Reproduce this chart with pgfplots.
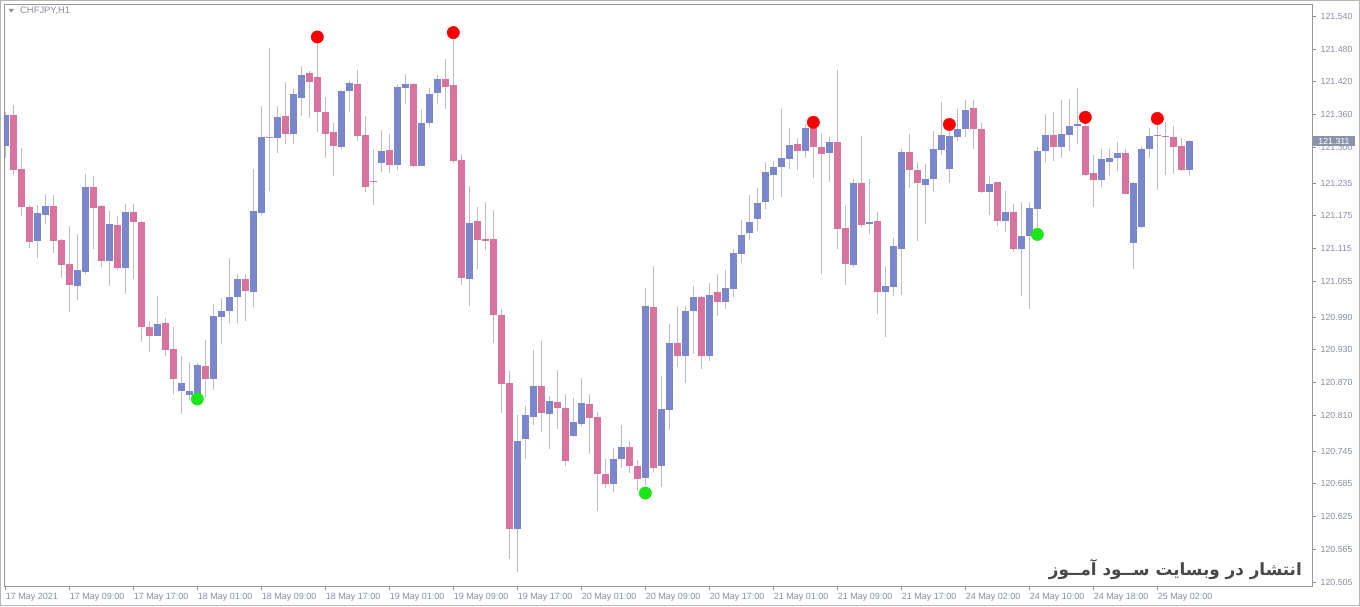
\documentclass[border=0pt]{standalone}
\usepackage{fontspec}
\setmainfont{Liberation Sans}
\newfontfamily\arabicfont[Script=Arabic]{DejaVu Sans}
\TeXXeTstate=1
\usepackage{pgfplots}
\usepackage{pgfplotstable}
\pgfplotsset{compat=1.18}

\definecolor{bullc}{RGB}{122,135,204}
\definecolor{bearc}{RGB}{217,114,158}
\definecolor{wickc}{RGB}{190,190,190}
\definecolor{lblc}{RGB}{136,142,160}
\definecolor{framec}{RGB}{150,150,150}
\definecolor{pricebox}{RGB}{140,147,172}
\definecolor{persc}{RGB}{72,72,72}
\definecolor{dotred}{RGB}{250,0,0}
\definecolor{dotgreen}{RGB}{26,230,26}

% hourly CHFJPY candles, x = bar index
\pgfplotstableread{
x O H L C
0 121.303 121.365 121.280 121.360
4 121.129 121.195 121.098 121.180
5 121.177 121.215 121.160 121.193
9 121.047 121.141 121.021 121.076
10 121.072 121.252 121.068 121.228
13 121.093 121.184 121.047 121.160
15 121.080 121.196 121.032 121.182
19 120.956 121.028 120.955 120.977
22 120.854 120.918 120.813 120.869
23 120.848 120.907 120.838 120.854
24 120.850 120.905 120.845 120.903
26 120.876 121.013 120.856 120.991
27 120.990 121.025 120.941 121.001
28 121.001 121.097 120.979 121.027
29 121.027 121.069 120.979 121.059
31 121.036 121.261 121.008 121.184
32 121.181 121.375 121.177 121.319
34 121.318 121.375 121.290 121.355
36 121.324 121.407 121.307 121.398
37 121.391 121.449 121.358 121.433
42 121.301 121.405 121.298 121.404
43 121.404 121.421 121.365 121.418
47 121.272 121.331 121.255 121.293
49 121.268 121.416 121.259 121.410
50 121.409 121.435 121.380 121.416
52 121.266 121.368 121.266 121.345
53 121.345 121.408 121.338 121.398
54 121.399 121.432 121.379 121.426
58 121.059 121.230 121.011 121.162
64 120.603 120.810 120.524 120.764
65 120.766 120.828 120.730 120.811
66 120.808 120.930 120.792 120.864
68 120.813 120.845 120.748 120.836
71 120.773 120.842 120.771 120.798
72 120.794 120.879 120.790 120.832
76 120.684 120.750 120.670 120.730
77 120.730 120.792 120.714 120.753
80 120.695 121.043 120.683 121.010
82 120.717 120.883 120.680 120.822
83 120.820 120.977 120.784 120.943
85 120.919 121.011 120.870 121.001
86 121.001 121.047 120.923 121.027
88 120.918 121.052 120.909 121.031
90 121.018 121.076 121.004 121.043
91 121.042 121.114 121.027 121.107
92 121.106 121.167 121.088 121.140
93 121.143 121.213 121.131 121.163
94 121.169 121.225 121.148 121.199
95 121.201 121.273 121.187 121.255
96 121.250 121.276 121.204 121.264
97 121.264 121.370 121.209 121.280
98 121.278 121.335 121.261 121.305
100 121.294 121.343 121.280 121.336
103 121.290 121.319 121.237 121.310
106 121.085 121.243 121.081 121.235
108 121.160 121.243 121.142 121.163
110 121.036 121.084 120.953 121.047
111 121.045 121.135 121.029 121.119
112 121.115 121.298 121.031 121.292
115 121.232 121.269 121.160 121.242
116 121.242 121.331 121.218 121.298
117 121.296 121.384 121.287 121.323
118 121.261 121.331 121.235 121.321
119 121.320 121.370 121.312 121.333
120 121.333 121.387 121.319 121.368
123 121.218 121.248 121.177 121.234
125 121.165 121.220 121.146 121.182
127 121.115 121.200 121.029 121.139
128 121.138 121.201 121.004 121.189
129 121.188 121.301 121.153 121.293
130 121.293 121.361 121.273 121.322
132 121.300 121.387 121.280 121.324
133 121.322 121.389 121.294 121.339
134 121.339 121.408 121.307 121.343
137 121.240 121.298 121.228 121.278
138 121.274 121.298 121.248 121.281
139 121.280 121.310 121.257 121.290
141 121.126 121.236 121.077 121.235
142 121.155 121.302 121.153 121.298
143 121.298 121.335 121.281 121.321
148 121.258 121.314 121.248 121.312
}\bull

\pgfplotstableread{
x O H L C
1 121.360 121.377 121.250 121.259
2 121.261 121.299 121.174 121.192
3 121.192 121.195 121.117 121.128
6 121.193 121.213 121.107 121.129
7 121.131 121.133 121.061 121.085
8 121.087 121.156 121.000 121.049
11 121.228 121.247 121.114 121.190
12 121.193 121.195 121.082 121.093
14 121.158 121.174 121.075 121.080
16 121.182 121.196 121.059 121.164
17 121.164 121.165 120.944 120.972
18 120.972 120.983 120.926 120.956
20 120.979 120.989 120.918 120.929
21 120.931 120.972 120.850 120.876
25 120.900 120.948 120.842 120.876
30 121.059 121.069 120.983 121.038
33 121.320 121.481 121.220 121.318
35 121.358 121.420 121.307 121.324
38 121.437 121.439 121.354 121.420
39 121.429 121.492 121.329 121.364
40 121.364 121.392 121.281 121.325
41 121.328 121.345 121.247 121.302
44 121.416 121.442 121.312 121.321
45 121.323 121.358 121.218 121.227
46 121.238 121.296 121.194 121.236
48 121.295 121.324 121.254 121.268
51 121.416 121.418 121.264 121.266
55 121.426 121.462 121.370 121.411
56 121.414 121.499 121.271 121.276
57 121.277 121.288 121.049 121.061
59 121.165 121.192 121.078 121.131
60 121.132 121.200 121.112 121.129
61 121.133 121.186 120.942 120.994
62 120.994 121.004 120.815 120.868
63 120.870 120.891 120.548 120.603
67 120.864 120.946 120.779 120.815
69 120.835 120.893 120.786 120.824
70 120.824 120.849 120.718 120.727
73 120.831 120.850 120.739 120.805
74 120.808 120.817 120.635 120.702
75 120.703 120.731 120.678 120.684
78 120.752 120.764 120.704 120.717
79 120.717 120.729 120.672 120.693
81 121.008 121.083 120.706 120.714
84 120.943 121.010 120.898 120.919
87 121.027 121.029 120.895 120.918
89 121.036 121.069 120.991 121.018
99 121.306 121.317 121.259 121.293
101 121.336 121.339 121.245 121.301
102 121.301 121.324 121.069 121.288
104 121.310 121.442 121.114 121.151
105 121.153 121.193 121.048 121.087
107 121.235 121.321 121.154 121.158
109 121.165 121.182 120.996 121.036
113 121.292 121.324 121.225 121.259
114 121.259 121.274 121.129 121.235
121 121.372 121.387 121.298 121.333
122 121.333 121.345 121.216 121.218
124 121.236 121.237 121.156 121.165
126 121.182 121.196 121.109 121.115
131 121.322 121.365 121.276 121.300
135 121.340 121.345 121.248 121.250
136 121.253 121.286 121.192 121.240
140 121.290 121.298 121.214 121.215
144 121.323 121.342 121.223 121.321
145 121.321 121.346 121.250 121.319
146 121.319 121.339 121.252 121.300
147 121.302 121.317 121.257 121.258
}\bear

\pgfplotstableread{
x y
39 121.502
56 121.510
101 121.346
118 121.342
135 121.355
144 121.353
}\reddots

\pgfplotstableread{
x y
24 120.840
80 120.668
129 121.141
}\greendots

\begin{document}
\begin{tikzpicture}
\fill[white] (0pt,0pt) rectangle (1360pt,606pt);
\draw[framec!70, line width=1pt] (0.5pt,0.5pt) rectangle (1359.5pt,605.5pt);
\begin{axis}[
    at={(4pt,20pt)}, anchor=south west,
    scale only axis, width=1308pt, height=582pt,
    xmin=-0.1625, xmax=163.33,
    ymin=120.4981, ymax=121.5623,
    axis line style={framec, line width=0.8pt},
    tick style={lblc, line width=0.8pt},
    tick align=outside, major tick length=3.5pt,
    xtick pos=bottom, ytick pos=right, yticklabel pos=right,
    xtick={0,8,...,144},
    xticklabels={17 May 2021, 17 May 09:00, 17 May 17:00, 18 May 01:00,
        18 May 09:00, 18 May 17:00, 19 May 01:00, 19 May 09:00, 19 May 17:00,
        20 May 01:00, 20 May 09:00, 20 May 17:00, 21 May 01:00, 21 May 09:00,
        21 May 17:00, 24 May 02:00, 24 May 10:00, 24 May 18:00, 25 May 02:00},
    ytick={120.505,120.565,120.625,120.685,120.745,120.810,120.870,120.930,
        120.990,121.055,121.115,121.175,121.235,121.300,121.360,121.420,
        121.480,121.540},
    yticklabels={120.505,120.565,120.625,120.685,120.745,120.810,120.870,
        120.930,120.990,121.055,121.115,121.175,121.235,121.300,121.360,
        121.420,121.480,121.540},
    x tick label style={anchor=north west, inner sep=0pt, xshift=0.3pt,
        yshift=-4pt, text=lblc, font=\fontsize{9}{10}\selectfont},
    y tick label style={anchor=west, inner sep=0pt, xshift=5pt,
        text=lblc, font=\fontsize{8.8}{10}\selectfont},
]
% wicks
\addplot[draw=none, mark=none, error bars/.cd, y dir=plus, y explicit,
    error mark=none, error bar style={draw=wickc, line width=1pt}]
    table[x=x, y=L, y error plus expr=\thisrow{H}-\thisrow{L}] {\bull};
\addplot[draw=none, mark=none, error bars/.cd, y dir=plus, y explicit,
    error mark=none, error bar style={draw=wickc, line width=1pt}]
    table[x=x, y=L, y error plus expr=\thisrow{H}-\thisrow{L}] {\bear};
% bodies
\addplot[draw=none, mark=none, error bars/.cd, y dir=plus, y explicit,
    error mark=none, error bar style={draw=bullc, line width=6.6pt}]
    table[x=x, y=O, y error plus expr=\thisrow{C}-\thisrow{O}] {\bull};
\addplot[draw=none, mark=none, error bars/.cd, y dir=plus, y explicit,
    error mark=none, error bar style={draw=bearc, line width=6.6pt}]
    table[x=x, y=C, y error plus expr=\thisrow{O}-\thisrow{C}] {\bear};
% signal dots
\addplot[only marks, mark=*, mark size=6.2pt, mark options={draw=dotred, fill=dotred}]
    table[x=x, y=y] {\reddots};
\addplot[only marks, mark=*, mark size=6.2pt, mark options={draw=dotgreen, fill=dotgreen}]
    table[x=x, y=y] {\greendots};
\end{axis}
% current price box
\fill[pricebox] (1313pt,459.6pt) rectangle (1355pt,469.6pt);
\node[text=white, inner sep=0pt, font=\fontsize{8.8}{10}\selectfont] at (1334pt,464.6pt) {121.311};
% symbol caption
\fill[lblc] (8.5pt,597pt) -- (14pt,597pt) -- (11.25pt,593.5pt) -- cycle;
\node[anchor=west, inner sep=0pt, text=lblc, font=\fontsize{9.4}{10}\selectfont] at (20pt,595pt) {CHFJPY,H1};
% watermark
\node[anchor=base east, inner sep=0pt, text=persc, font=\arabicfont\bfseries\fontsize{16.8}{20}\selectfont]
    at (1302pt,31pt) {\beginR انتشار در وبسایت ســود آمــوز\endR};
\pgfresetboundingbox
\path[use as bounding box] (0pt,0pt) rectangle (1360pt,606pt);
\end{tikzpicture}
\end{document}
